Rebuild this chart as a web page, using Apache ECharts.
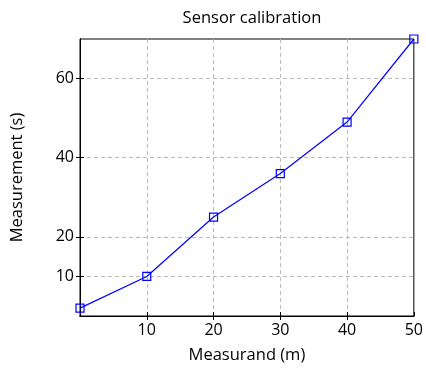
<!DOCTYPE html>
<html>
<head>
<meta charset="utf-8">
<script src="https://cdn.jsdelivr.net/npm/echarts@6/dist/echarts.min.js"></script>
<style>
  html, body { margin: 0; padding: 0; background: #fff; }
  #main { width: 426px; height: 369px; }
</style>
</head>
<body>
<div id="main"></div>
<script>
// data
var measurand = [0, 10, 20, 30, 40, 50];
var measurement = [2, 10, 25, 36, 49, 70];
var xTicks = [10, 20, 30, 40, 50];
var xGrid = [10, 20, 30, 40];
var yTicks = [10, 20, 40, 60];

var font = 'Open Sans';
var points = measurand.map(function (x, i) { return [x, measurement[i]]; });

var chart = echarts.init(document.getElementById('main'));

var option = {
  backgroundColor: '#fff',
  animation: false,
  title: {
    text: 'Sensor calibration',
    left: 247,
    textAlign: 'center',
    top: 5,
    textStyle: { fontFamily: font, fontSize: 16.5, fontWeight: 'normal', color: '#000' }
  },
  grid: {
    left: 80, right: 9, top: 39, bottom: 50,
    show: true, borderColor: '#000', borderWidth: 1
  },
  xAxis: [{
    type: 'value', min: 0, max: 50,
    name: 'Measurand (m)', nameLocation: 'middle', nameGap: 31,
    nameTextStyle: { fontFamily: font, fontSize: 16.5, color: '#000' },
    axisLine: { show: true, lineStyle: { color: '#000' } },
    axisTick: { show: true, inside: true, length: 4, customValues: xTicks, lineStyle: { color: '#000' } },
    axisLabel: { customValues: xTicks, fontFamily: font, fontSize: 16, color: '#000', margin: 6 },
    splitLine: { show: false }
  }, {
    // top edge: ticks plus the vertical grid lines (no line at 50, it is the frame)
    type: 'value', min: 0, max: 50, position: 'top',
    axisLine: { show: true, lineStyle: { color: '#000' } },
    axisTick: { show: true, inside: true, length: 4, customValues: xGrid, lineStyle: { color: '#000' } },
    axisLabel: { show: false },
    splitLine: { show: true, lineStyle: { color: '#bbb', type: [4, 3] } }
  }],
  yAxis: [{
    type: 'value', min: 0, max: 70,
    name: 'Measurement (s)', nameLocation: 'middle', nameGap: 54,
    nameTextStyle: { fontFamily: font, fontSize: 16.5, color: '#000' },
    axisLine: { show: true, lineStyle: { color: '#000' } },
    axisTick: { show: true, inside: true, length: 4, customValues: yTicks, lineStyle: { color: '#000' } },
    axisLabel: { customValues: yTicks, fontFamily: font, fontSize: 16, color: '#000', margin: 6 },
    splitLine: { show: true, lineStyle: { color: '#bbb', type: [4, 3] } }
  }, {
    type: 'value', min: 0, max: 70, position: 'right',
    axisLine: { show: true, lineStyle: { color: '#000' } },
    axisTick: { show: true, inside: true, length: 4, customValues: yTicks, lineStyle: { color: '#000' } },
    axisLabel: { show: false },
    splitLine: { show: false }
  }],
  series: [{
    type: 'line',
    data: points,
    symbol: 'rect',
    symbolSize: 8,
    showAllSymbol: true,
    lineStyle: { color: '#0000ff', width: 1.2 },
    itemStyle: { color: 'rgba(255,255,255,0)', borderColor: '#0000ff', borderWidth: 1.2 },
    clip: false
  }]
};

chart.setOption(option);
</script>
</body>
</html>
